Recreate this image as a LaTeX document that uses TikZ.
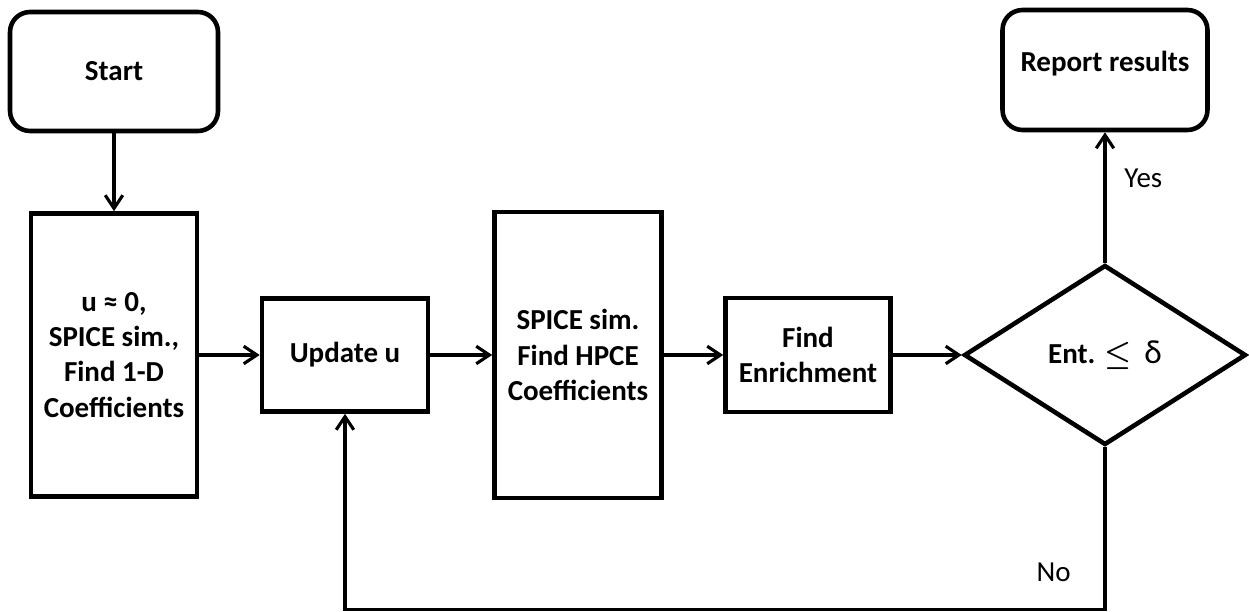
\documentclass[tikz,border=0pt]{standalone}
\usepackage{fontspec}
\setmainfont{Carlito}
\usetikzlibrary{shapes.geometric,arrows.meta}
\begin{document}
\begin{tikzpicture}[x=0.02cm,y=-0.02cm,
    every node/.style={font=\fontsize{16.5}{20}\selectfont},
    box/.style={draw,line width=2.6pt,align=center,
      font=\fontsize{16.5}{20}\selectfont\bfseries},
    term/.style={box,rounded corners=0.4cm},
    test/.style={box,diamond,aspect=1.55},
    line width=1.8pt,>={Straight Barb[length=7.5pt,width=10pt]}]
      \useasboundingbox (0,0) rectangle (1249,612);
      \draw
        (114,71.5) node[term,minimum width=4.16cm,minimum height=2.38cm] (start){Start}
        (114,355) node[box,minimum width=3.32cm,minimum height=5.66cm] (init){u ≈ 0,\\SPICE sim.,\\Find 1-D\\Coefficients}
        (345,355) node[box,minimum width=3.32cm,minimum height=2.26cm] (update){Update u}
        (578,355) node[box,minimum width=3.34cm,minimum height=5.72cm] (spice){SPICE sim.\\Find HPCE\\Coefficients}
        (808,355) node[box,minimum width=3.3cm,minimum height=2.28cm] (enrich){Find\\Enrichment}
        (1105,355) node[test,minimum width=5.64cm,minimum height=3.6cm] (test){Ent. {\boldmath$\leq$}\ \ {\mdseries\fontsize{19}{20}\selectfont δ}}
        (1105,70) node[term,minimum width=4.1cm,minimum height=2.4cm,text depth=0.35cm] (report){Report results};
      \begin{scope}[->]
        \draw (start) to (init);
        \draw (init) to (update);
        \draw (update) to (spice);
        \draw (spice) to (enrich);
        \draw (enrich) to (test);
        \draw (test) to node[pos=0.65,anchor=west,xshift=0.24cm]{Yes} (report);
        \draw (test.south) -- node[pos=0.77,anchor=east,xshift=-0.54cm]{No} ++(0,162) -| (update.south);
      \end{scope}
    \end{tikzpicture}
\end{document}
